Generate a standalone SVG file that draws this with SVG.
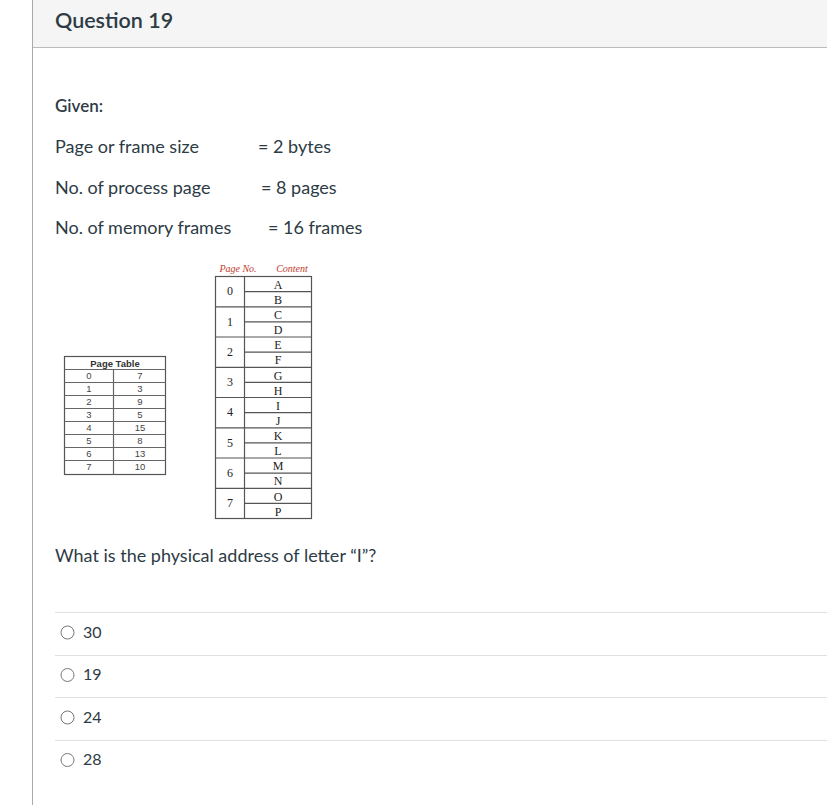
<svg xmlns="http://www.w3.org/2000/svg" width="827" height="805" viewBox="0 0 827 805">
<style>
.t{font-family:Lato,"Liberation Sans",sans-serif;fill:#2d3b45;font-size:18px}
.a{font-family:Lato,"Liberation Sans",sans-serif;fill:#2d3b45;font-size:16px}
.s{font-family:"Liberation Sans",Arial,sans-serif;fill:#444;font-size:9.5px;text-anchor:middle}
.r{font-family:"Liberation Serif","Times New Roman",serif;fill:#222;font-size:12px;text-anchor:middle}
.hd{font-family:"Liberation Serif",serif;fill:#c0392b;font-size:10px;font-style:italic;text-anchor:middle}
.ln{stroke:#555;stroke-width:1.2;fill:none}
.sep{stroke:#e0e0e0;stroke-width:1}
.rad{fill:#fff;stroke:#777;stroke-width:1}
</style>
<rect x="0" y="0" width="827" height="805" fill="#fff"/>
<rect x="32" y="0" width="795" height="47" fill="#f5f5f5"/>
<line x1="32" y1="47.5" x2="827" y2="47.5" stroke="#bbb" stroke-width="1"/>
<line x1="32.5" y1="0" x2="32.5" y2="805" stroke="#aaa" stroke-width="1"/>
<text x="55" y="28" class="t" style="font-size:21.5px;font-weight:600">Question 19</text>
<text x="55" y="112" class="t" style="font-weight:600;font-size:17px">Given:</text>
<text x="55" y="153" class="t">Page or frame size</text>
<text x="258" y="153" class="t">= 2 bytes</text>
<text x="55" y="194" class="t">No. of process page</text>
<text x="261" y="194" class="t">= 8 pages</text>
<text x="55" y="234" class="t">No. of memory frames</text>
<text x="268" y="234" class="t">= 16 frames</text>

<g id="page-table">
<rect x="64.5" y="356.5" width="101" height="118" class="ln" stroke="#666"/>
<text x="115" y="367" class="s" style="font-weight:bold;fill:#333">Page Table</text>
<g stroke="#666" stroke-width="1.2">
<line x1="64.5" y1="369.5" x2="165.5" y2="369.5"/>
<line x1="64.5" y1="382.5" x2="165.5" y2="382.5"/>
<line x1="64.5" y1="395.5" x2="165.5" y2="395.5"/>
<line x1="64.5" y1="408.5" x2="165.5" y2="408.5"/>
<line x1="64.5" y1="421.5" x2="165.5" y2="421.5"/>
<line x1="64.5" y1="434.5" x2="165.5" y2="434.5"/>
<line x1="64.5" y1="447.5" x2="165.5" y2="447.5"/>
<line x1="64.5" y1="460.5" x2="165.5" y2="460.5"/>
<line x1="113.5" y1="369.5" x2="113.5" y2="474.5"/>
</g>
<text x="89" y="379" class="s">0</text><text x="140" y="379" class="s">7</text>
<text x="89" y="392" class="s">1</text><text x="140" y="392" class="s">3</text>
<text x="89" y="405" class="s">2</text><text x="140" y="405" class="s">9</text>
<text x="89" y="418" class="s">3</text><text x="140" y="418" class="s">5</text>
<text x="89" y="431" class="s">4</text><text x="140" y="431" class="s">15</text>
<text x="89" y="444" class="s">5</text><text x="140" y="444" class="s">8</text>
<text x="89" y="457" class="s">6</text><text x="140" y="457" class="s">13</text>
<text x="89" y="470" class="s">7</text><text x="140" y="470" class="s">10</text>
</g>

<g id="process-pages">
<text x="238" y="272" class="hd">Page No.</text>
<text x="292" y="272" class="hd">Content</text>
<rect x="215.5" y="276.5" width="96" height="242" class="ln"/>
<line x1="244.5" y1="276.5" x2="244.5" y2="518.5" class="ln"/>
<g class="ln">
<line x1="244.5" y1="291.6" x2="311.5" y2="291.6"/>
<line x1="215.5" y1="306.8" x2="311.5" y2="306.8"/>
<line x1="244.5" y1="321.9" x2="311.5" y2="321.9"/>
<line x1="215.5" y1="337" x2="311.5" y2="337"/>
<line x1="244.5" y1="352.1" x2="311.5" y2="352.1"/>
<line x1="215.5" y1="367.3" x2="311.5" y2="367.3"/>
<line x1="244.5" y1="382.4" x2="311.5" y2="382.4"/>
<line x1="215.5" y1="397.5" x2="311.5" y2="397.5"/>
<line x1="244.5" y1="412.6" x2="311.5" y2="412.6"/>
<line x1="215.5" y1="427.8" x2="311.5" y2="427.8"/>
<line x1="244.5" y1="442.9" x2="311.5" y2="442.9"/>
<line x1="215.5" y1="458" x2="311.5" y2="458"/>
<line x1="244.5" y1="473.1" x2="311.5" y2="473.1"/>
<line x1="215.5" y1="488.3" x2="311.5" y2="488.3"/>
<line x1="244.5" y1="503.4" x2="311.5" y2="503.4"/>
</g>
<text x="230" y="295" class="r">0</text>
<text x="230" y="326" class="r">1</text>
<text x="230" y="356" class="r">2</text>
<text x="230" y="386" class="r">3</text>
<text x="230" y="416" class="r">4</text>
<text x="230" y="447" class="r">5</text>
<text x="230" y="477" class="r">6</text>
<text x="230" y="507" class="r">7</text>
<text x="278" y="289" class="r">A</text>
<text x="278" y="304" class="r">B</text>
<text x="278" y="319" class="r">C</text>
<text x="278" y="334" class="r">D</text>
<text x="278" y="349" class="r">E</text>
<text x="278" y="364" class="r">F</text>
<text x="278" y="380" class="r">G</text>
<text x="278" y="395" class="r">H</text>
<text x="278" y="410" class="r">I</text>
<text x="278" y="425" class="r">J</text>
<text x="278" y="440" class="r">K</text>
<text x="278" y="455" class="r">L</text>
<text x="278" y="470" class="r">M</text>
<text x="278" y="485" class="r">N</text>
<text x="278" y="501" class="r">O</text>
<text x="278" y="516" class="r">P</text>
</g>

<text x="55" y="562" class="t">What is the physical address of letter “I”?</text>

<g id="answers">
<line x1="55" y1="612.5" x2="827" y2="612.5" class="sep"/>
<circle cx="67.5" cy="632.5" r="6.5" class="rad"/>
<text x="83" y="638" class="a">30</text>
<line x1="55" y1="655.5" x2="827" y2="655.5" class="sep"/>
<circle cx="67.5" cy="675" r="6.5" class="rad"/>
<text x="83" y="680" class="a">19</text>
<line x1="55" y1="697.5" x2="827" y2="697.5" class="sep"/>
<circle cx="67.5" cy="717.5" r="6.5" class="rad"/>
<text x="83" y="723" class="a">24</text>
<line x1="55" y1="740.5" x2="827" y2="740.5" class="sep"/>
<circle cx="67.5" cy="760" r="6.5" class="rad"/>
<text x="83" y="765" class="a">28</text>
</g>
</svg>
